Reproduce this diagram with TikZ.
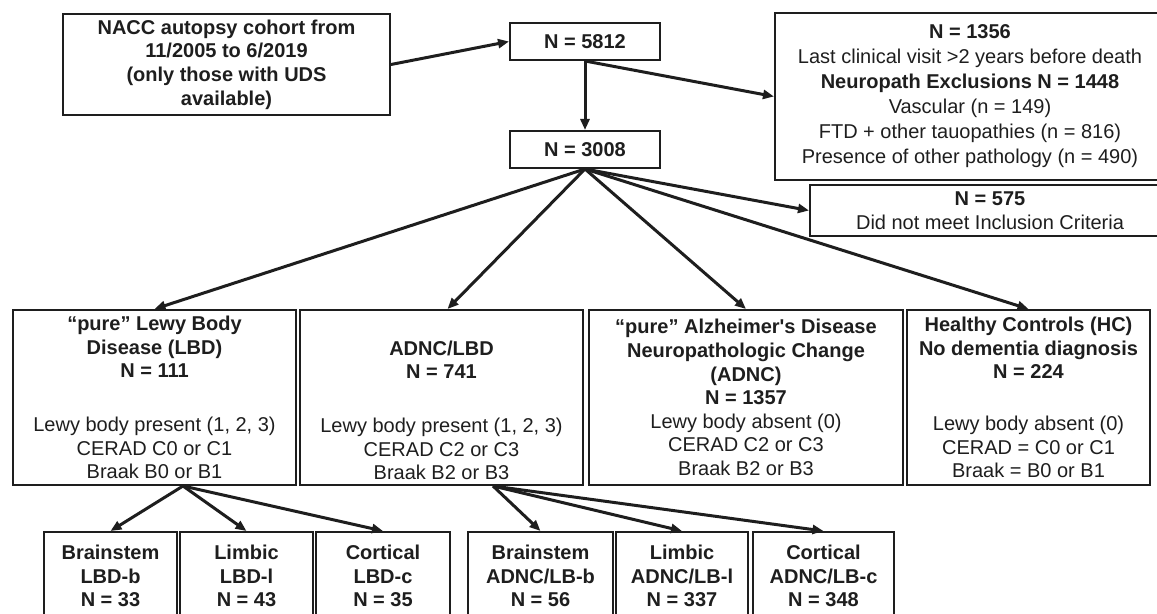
\documentclass[tikz,border=0pt]{standalone}
\usepackage{fontspec}
\setmainfont{Liberation Sans}
\usepackage{xcolor}
\usepackage{tikz}
\usetikzlibrary{arrows.meta,calc}
\definecolor{FrameDark}{HTML}{1E1E1E}

\begin{document}
\begin{tikzpicture}[x=0.5pt,y=-0.5pt,
    every node/.style={font=\fontsize{10}{11.8}\selectfont, text=FrameDark},
    flowbox/.style={draw=FrameDark, line width=1pt, inner sep=0pt, align=center},
    boldbox/.style={flowbox, font=\fontsize{10}{11.8}\selectfont\bfseries},
    flowarrow/.style={draw=FrameDark, line width=1.5pt, -{Triangle[length=5.5pt,width=4.5pt]}}]
  \clip (0,0) rectangle (1157,614);
  \node[boldbox, minimum width=163.5pt, minimum height=50.5pt] (nacc) at (226.5,64.5)
    {NACC autopsy cohort from\\11/2005 to 6/2019\\(only those with UDS\\available)};
  \node[boldbox, minimum width=75pt, minimum height=18.5pt] (n5812) at (585,41.5) {N = 5812};
  \node[boldbox, minimum width=75pt, minimum height=18.5pt] (n3008) at (585,149.5) {N = 3008};
  \node[flowbox, minimum width=195pt, minimum height=83.5pt, font=\fontsize{10}{12.5}\selectfont] (excl) at (970,96.5)
    {\textbf{N = 1356}\\Last clinical visit >2 years before death\\\textbf{Neuropath Exclusions N = 1448}\\Vascular (n = 149)\\FTD + other tauopathies (n = 816)\\Presence of other pathology (n = 490)};
  \node[flowbox, minimum width=180pt, minimum height=25.5pt] (n575) at (990,210.5)
    {\textbf{N = 575}\\Did not meet Inclusion Criteria};
  \node[flowbox, minimum width=141.5pt, minimum height=87.5pt] (lbd) at (154.5,397.5)
    {\textbf{“pure” Lewy Body}\\\textbf{Disease (LBD)}\\\textbf{N = 111}\\[15pt]Lewy body present (1, 2, 3)\\CERAD C0 or C1\\Braak B0 or B1};
  \node[flowbox, minimum width=141.5pt, minimum height=87.5pt] (adnclbd) at (441.5,397.5)
    {\strut\\\textbf{ADNC/LBD}\\\textbf{N = 741}\\[15pt]Lewy body present (1, 2, 3)\\CERAD C2 or C3\\Braak B2 or B3};
  \node[flowbox, minimum width=157pt, minimum height=87.5pt] (adnc) at (746,397.5)
    {\textbf{“pure” Alzheimer\textquotesingle s Disease}\\\textbf{Neuropathologic Change}\\\textbf{(ADNC)}\\\textbf{N = 1357}\\Lewy body absent (0)\\CERAD C2 or C3\\Braak B2 or B3};
  \node[flowbox, minimum width=121.5pt, minimum height=87.5pt] (hc) at (1028.5,397.5)
    {\textbf{Healthy Controls (HC)}\\\textbf{No dementia diagnosis}\\\textbf{N = 224}\\[14pt]Lewy body absent (0)\\CERAD = C0 or C1\\Braak = B0 or B1};
  \node[boldbox, minimum width=66.5pt, minimum height=44pt] (lbdb) at (110.5,576) {Brainstem\\LBD-b\\N = 33};
  \node[boldbox, minimum width=66.5pt, minimum height=44pt] (lbdl) at (246.5,576) {Limbic\\LBD-l\\N = 43};
  \node[boldbox, minimum width=67pt, minimum height=44pt] (lbdc) at (383,576) {Cortical\\LBD-c\\N = 35};
  \node[boldbox, minimum width=72.5pt, minimum height=44pt] (alb) at (540.5,576) {Brainstem\\ADNC/LB-b\\N = 56};
  \node[boldbox, minimum width=66pt, minimum height=44pt] (all) at (682,576) {Limbic\\ADNC/LB-l\\N = 337};
  \node[boldbox, minimum width=70.5pt, minimum height=44pt] (alc) at (823.5,576) {Cortical\\ADNC/LB-c\\N = 348};
  \coordinate (lbdfoot) at ($(lbd.south)+(28.5,0)$);
  \coordinate (adncfoot) at ($(adnclbd.south)+(51.5,0)$);
  \draw[flowarrow] (nacc.east) -- (n5812.west);
  \draw[flowarrow] (n5812.south) -- (n3008.north);
  \draw[flowarrow] (n5812.south) -- (excl.west);
  \draw[flowarrow] (n3008.south) -- (n575.west);
  \draw[flowarrow] (n3008.south) -- (lbd.north);
  \draw[flowarrow] (n3008.south) -- ($(adnclbd.north)+(6,0)$);
  \draw[flowarrow] (n3008.south) -- (adnc.north);
  \draw[flowarrow] (n3008.south) -- (hc.north);
  \draw[flowarrow] (lbdfoot) -- (lbdb.north);
  \draw[flowarrow] (lbdfoot) -- (lbdl.north);
  \draw[flowarrow] (lbdfoot) -- (lbdc.north);
  \draw[flowarrow] (adncfoot) -- (alb.north);
  \draw[flowarrow] (adncfoot) -- (all.north);
  \draw[flowarrow] (adncfoot) -- (alc.north);
\end{tikzpicture}
\end{document}
